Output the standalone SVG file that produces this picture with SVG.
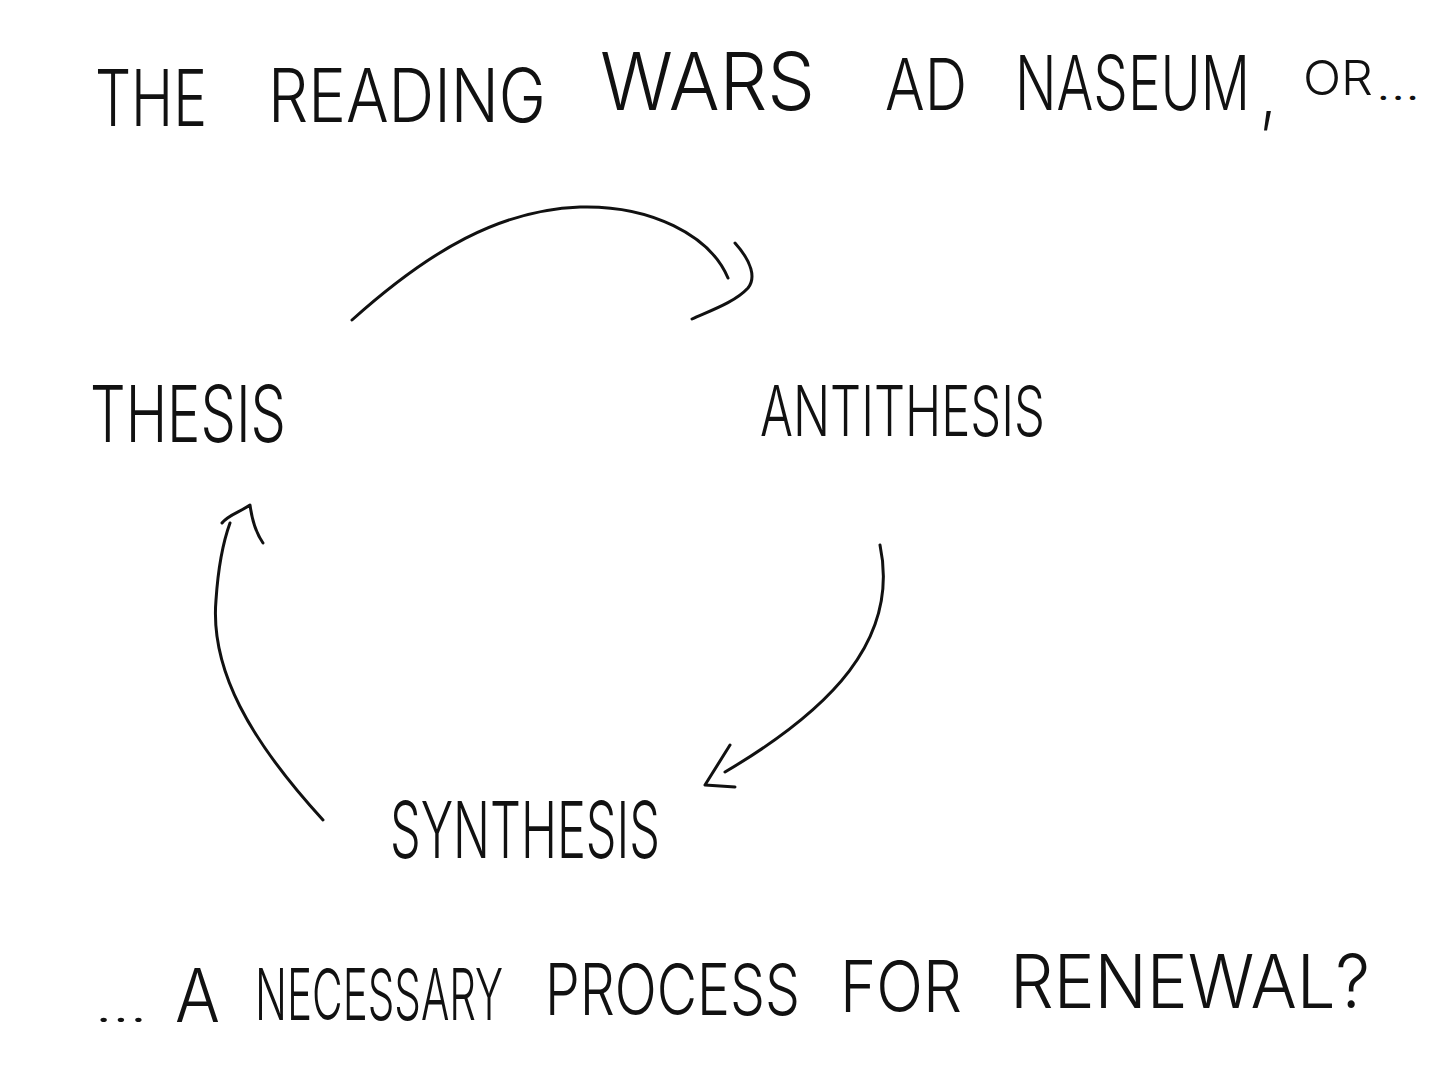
<svg xmlns="http://www.w3.org/2000/svg" width="1456" height="1087" viewBox="0 0 1456 1087">
<style>
.t{font-family:"Inter","Roboto","Liberation Sans",sans-serif;fill:#111;font-weight:300}
.c{fill:none;stroke:#111;stroke-width:3;stroke-linecap:round;stroke-linejoin:round}
</style>
<rect width="1456" height="1087" fill="#ffffff"/>
<g id="title">
<text class="t" transform="translate(95,126) scale(1,1.42)" font-size="55" textLength="112" lengthAdjust="spacingAndGlyphs">THE</text>
<text class="t" transform="translate(268,122) scale(1,1.28)" font-size="58" textLength="278" lengthAdjust="spacingAndGlyphs">READING</text>
<text class="t" transform="translate(600,110) scale(1,1.14)" font-size="70" textLength="215" lengthAdjust="spacingAndGlyphs">WARS</text>
<text class="t" transform="translate(885,110) scale(1,1.24)" font-size="58" textLength="82" lengthAdjust="spacingAndGlyphs">AD</text>
<text class="t" transform="translate(1015,110) scale(1,1.36)" font-size="56" textLength="235" lengthAdjust="spacingAndGlyphs">NASEUM</text>
<text class="t" transform="translate(1260,118) scale(1,1.3)" font-size="58">,</text>
<text class="t" x="1303" y="95" font-size="48" textLength="70" lengthAdjust="spacingAndGlyphs">OR</text>
<text class="t" x="1376" y="100" font-size="40" textLength="44" lengthAdjust="spacingAndGlyphs">...</text>
</g>
<g id="thesis">
<text class="t" transform="translate(90,442) scale(1,1.44)" font-size="54" textLength="196" lengthAdjust="spacingAndGlyphs">THESIS</text>
</g>
<g id="antithesis">
<text class="t" transform="translate(760,436) scale(1,1.55)" font-size="45" textLength="285" lengthAdjust="spacingAndGlyphs">ANTITHESIS</text>
</g>
<g id="synthesis">
<text class="t" transform="translate(390,858) scale(1,1.66)" font-size="47" textLength="270" lengthAdjust="spacingAndGlyphs">SYNTHESIS</text>
</g>
<g id="caption">
<text class="t" x="95" y="1022" font-size="40" textLength="52" lengthAdjust="spacingAndGlyphs">...</text>
<text class="t" transform="translate(175,1022) scale(1,1.23)" font-size="60" textLength="45" lengthAdjust="spacingAndGlyphs">A</text>
<text class="t" transform="translate(255,1020) scale(1,1.71)" font-size="42" textLength="248" lengthAdjust="spacingAndGlyphs">NECESSARY</text>
<text class="t" transform="translate(545,1015) scale(1,1.33)" font-size="54" textLength="255" lengthAdjust="spacingAndGlyphs">PROCESS</text>
<text class="t" transform="translate(840,1012) scale(1,1.16)" font-size="62" textLength="122" lengthAdjust="spacingAndGlyphs">FOR</text>
<text class="t" transform="translate(1010,1008) scale(1,1.12)" font-size="66" textLength="360" lengthAdjust="spacingAndGlyphs">RENEWAL?</text>
</g>
<g id="connectors">
<path class="c" d="M352,320 C430,250 500,210 580,207 C650,205 710,235 728,278"/>
<path class="c" d="M735,243 C752,262 756,278 748,288 C735,302 712,310 692,319"/>
<path class="c" d="M880,545 C900,640 830,710 725,772"/>
<path class="c" d="M730,745 L705,785 L735,787"/>
<path class="c" d="M323,820 C250,740 210,670 216,600 C218,570 222,545 230,523"/>
<path class="c" d="M222,523 C228,515 240,512 250,505 C252,520 256,533 263,543"/>
</g>
</svg>
